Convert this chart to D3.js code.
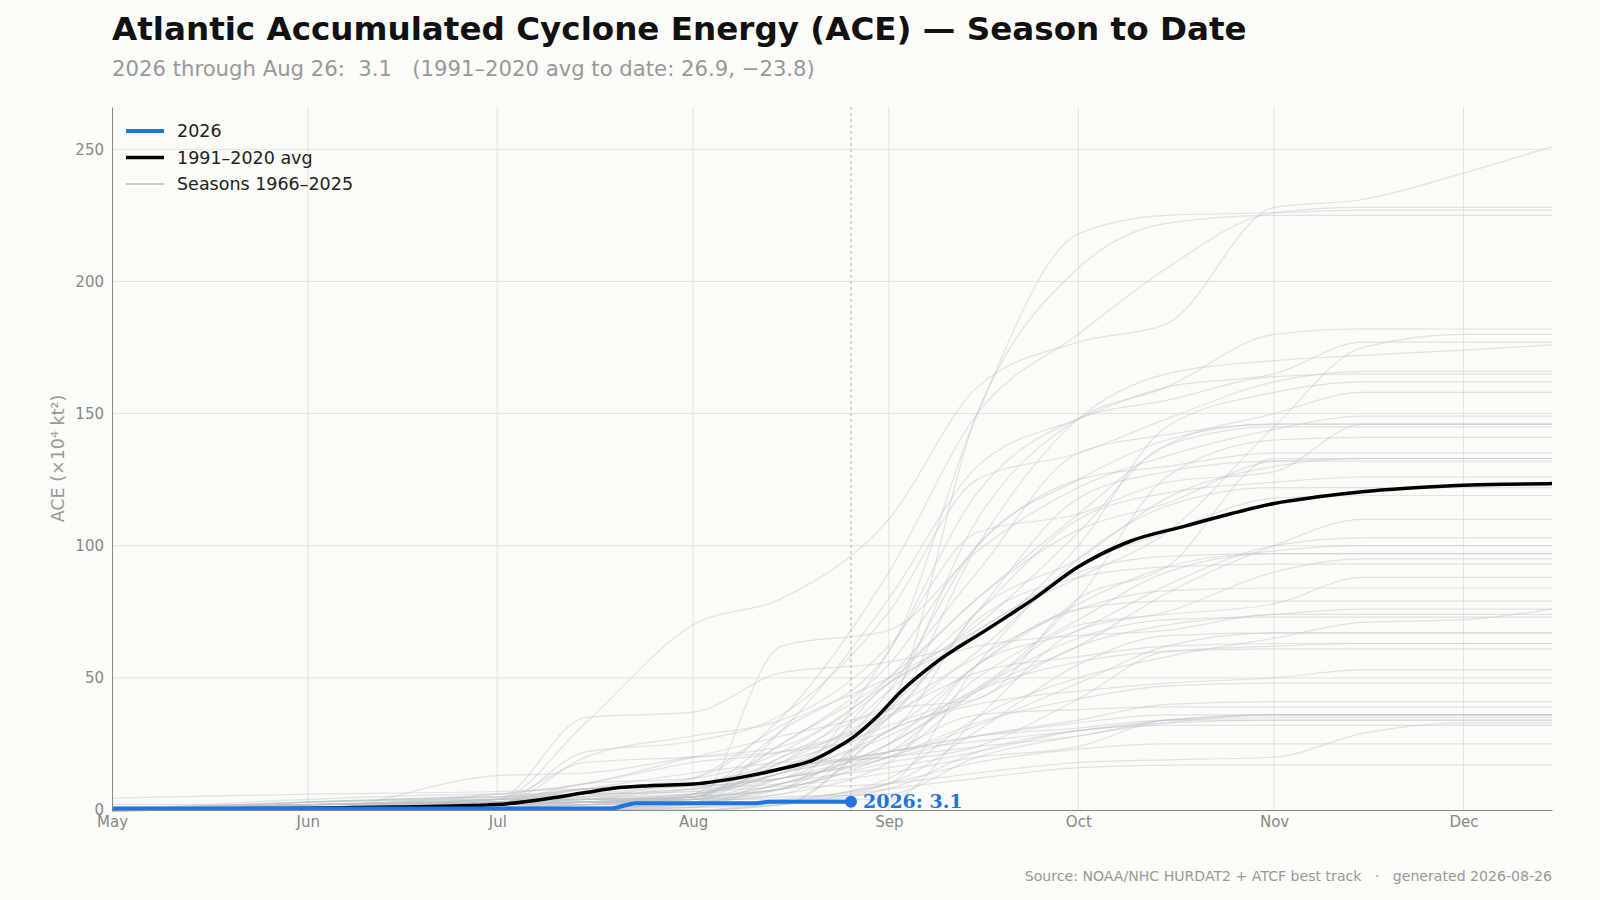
<!DOCTYPE html>
<html>
<head>
<meta charset="utf-8">
<script src="https://cdn.jsdelivr.net/npm/d3@7"></script>
<style>
  html, body { margin: 0; padding: 0; background: #fbfbf7; }
  svg { display: block; font-family: "DejaVu Sans", sans-serif; }
</style>
</head>
<body>
<svg id="chart"></svg>
<script>
// ---- data -------------------------------------------------------------
// sample dates for the historical seasons (month-day)
const seasonDates = ['05-01', '06-01', '07-01', '07-15', '08-01', '08-15', '09-01',
  '09-15', '10-01', '10-15', '11-01', '11-15', '12-01', '12-15'];

const seasonYears = [1966, 1967, 1968, 1969, 1970, 1971, 1972, 1973, 1974, 1975,
  1976, 1977, 1978, 1979, 1980, 1981, 1982, 1983, 1984, 1985,
  1986, 1987, 1988, 1989, 1990, 1991, 1992, 1993, 1994, 1995,
  1996, 1997, 1998, 1999, 2000, 2001, 2002, 2003, 2004, 2005,
  2006, 2007, 2008, 2009, 2010, 2011, 2012, 2013, 2014, 2015,
  2016, 2017, 2018, 2019, 2020, 2021, 2022, 2023, 2024, 2025];

// cumulative ACE per season at seasonDates (one row per year above)
const seasonAce = [
  [0, 0, 13, 14, 20, 24, 48, 70, 105, 138, 145, 145, 145, 145],
  [0, 0, 1, 1, 2, 3, 10, 55, 95, 115, 122, 122, 122, 122],
  [0, 4, 6, 6, 7, 9, 14, 20, 24, 34, 35, 35, 35, 35],
  [0, 2, 3, 3, 5, 25, 50, 80, 112, 138, 150, 158, 158, 158],
  [0, 2, 3, 4, 10, 16, 22, 28, 31, 34, 34, 34, 34, 34],
  [0, 1, 2, 3, 6, 12, 22, 50, 72, 90, 97, 97, 97, 97],
  [0, 3, 5, 6, 7, 14, 22, 28, 33, 36, 36, 36, 36, 36],
  [0, 0, 1, 3, 5, 8, 20, 33, 42, 47, 48, 48, 48, 48],
  [0, 0, 2, 3, 4, 10, 25, 45, 56, 60, 61, 61, 61, 61],
  [0, 1, 3, 4, 6, 14, 28, 46, 65, 72, 73, 73, 73, 73],
  [0, 1, 2, 3, 5, 18, 38, 58, 76, 83, 84, 84, 84, 84],
  [0, 0, 0, 0, 1, 3, 10, 18, 23, 25, 25, 25, 25, 25],
  [0, 0, 1, 2, 6, 16, 36, 52, 58, 62, 63, 63, 63, 63],
  [0, 0, 3, 6, 10, 16, 35, 72, 88, 92, 93, 93, 93, 93],
  [0, 0, 0, 0, 2, 62, 68, 98, 122, 134, 144, 149, 149, 149],
  [0, 2, 3, 4, 6, 14, 30, 55, 78, 92, 98, 100, 100, 100],
  [0, 2, 3, 3, 3, 3, 8, 22, 30, 32, 32, 32, 32, 32],
  [0, 0, 0, 0, 0, 2, 8, 12, 16, 17, 17, 17, 17, 17],
  [0, 0, 0, 0, 0, 3, 12, 35, 50, 58, 65, 71, 72, 76],
  [0, 0, 0, 1, 4, 10, 25, 45, 70, 74, 78, 88, 88, 88],
  [0, 3, 4, 4, 5, 14, 22, 26, 30, 34, 36, 36, 36, 36],
  [0, 0, 0, 0, 1, 10, 16, 22, 30, 33, 34, 34, 34, 34],
  [0, 1, 2, 2, 3, 6, 18, 55, 68, 85, 100, 103, 103, 103],
  [0, 1, 4, 6, 8, 25, 55, 100, 125, 130, 135, 135, 135, 135],
  [0, 2, 3, 5, 12, 32, 50, 68, 90, 96, 97, 97, 97, 97],
  [0, 0, 0, 3, 5, 16, 20, 24, 28, 34, 36, 36, 36, 36],
  [1, 1, 1, 1, 1, 2, 30, 42, 62, 70, 74, 76, 76, 76],
  [0, 1, 1, 1, 2, 12, 22, 36, 38, 39, 39, 39, 39, 39],
  [0, 0, 1, 3, 3, 8, 10, 14, 18, 19, 20, 29, 33, 33],
  [0, 3, 5, 8, 12, 35, 90, 150, 180, 205, 226, 228, 228, 228],
  [0, 0, 2, 22, 26, 36, 75, 125, 135, 148, 162, 166, 166, 166],
  [0, 1, 3, 8, 14, 18, 20, 28, 34, 40, 41, 41, 41, 41],
  [0, 0, 0, 0, 3, 8, 40, 110, 148, 160, 180, 182, 182, 182],
  [0, 0, 2, 3, 4, 30, 80, 130, 148, 160, 165, 177, 177, 177],
  [0, 0, 1, 2, 5, 20, 35, 60, 92, 105, 118, 119, 119, 119],
  [0, 1, 2, 3, 4, 12, 20, 45, 62, 82, 100, 110, 110, 110],
  [0, 0, 0, 1, 2, 4, 10, 30, 55, 66, 67, 67, 67, 67],
  [2, 2, 6, 10, 18, 22, 38, 100, 148, 165, 170, 172, 174, 176],
  [0, 0, 0, 0, 6, 30, 60, 150, 218, 225, 226, 227, 227, 227],
  [0, 2, 4, 33, 70, 80, 110, 160, 177, 184, 228, 231, 241, 251],
  [0, 2, 3, 4, 5, 8, 25, 55, 76, 79, 79, 79, 79, 79],
  [0, 2, 4, 4, 5, 8, 48, 62, 66, 68, 74, 74, 74, 74],
  [0, 1, 2, 20, 28, 34, 62, 105, 112, 124, 128, 146, 146, 146],
  [0, 0, 0, 0, 0, 2, 30, 40, 45, 48, 50, 53, 53, 53],
  [0, 0, 4, 8, 9, 12, 60, 120, 148, 155, 164, 165, 165, 165],
  [0, 0, 2, 4, 8, 14, 45, 75, 110, 120, 124, 126, 126, 126],
  [0, 3, 5, 5, 6, 18, 48, 80, 106, 116, 132, 133, 133, 133],
  [0, 0, 1, 2, 3, 5, 6, 20, 28, 33, 36, 36, 36, 36],
  [0, 0, 2, 8, 9, 12, 20, 32, 48, 62, 67, 67, 67, 67],
  [0, 2, 3, 3, 4, 8, 18, 24, 42, 60, 62, 63, 63, 63],
  [4.5, 6, 7, 8, 10, 18, 32, 46, 80, 126, 140, 141, 141, 141],
  [1, 2, 4, 5, 8, 10, 38, 150, 205, 222, 225, 225, 225, 225],
  [0, 2, 4, 18, 20, 22, 30, 75, 95, 118, 130, 133, 133, 133],
  [0, 0, 0, 2, 4, 6, 35, 75, 118, 128, 132, 132, 132, 132],
  [0, 3, 6, 10, 20, 28, 40, 68, 88, 105, 145, 175, 180, 180],
  [0, 1, 3, 10, 12, 22, 50, 90, 135, 142, 146, 146, 146, 146],
  [0, 1, 3, 4, 4, 4, 4, 35, 68, 75, 90, 95, 95, 95],
  [0, 2, 4, 8, 10, 12, 45, 100, 125, 140, 146, 146, 146, 146],
  [0, 0, 4, 35, 37, 52, 56, 66, 100, 145, 158, 162, 162, 162],
  [0, 0, 1, 2, 3, 20, 38, 42, 80, 92, 133, 133, 133, 133]
];

// 1991-2020 climatology
const avgDates = ['05-01', '05-15', '06-01', '06-15', '07-01', '07-08', '07-15', '07-20',
  '07-25', '08-01', '08-10', '08-15', '08-20', '08-24', '08-26', '08-30', '09-03',
  '09-08', '09-17', '09-24', '10-01', '10-09', '10-18', '10-25', '11-01', '11-08',
  '11-15', '11-22', '12-01', '12-08', '12-15'];
const avgAce = [0.2, 0.4, 0.7, 1.1, 2.1, 4.0, 6.6, 8.4, 9.2, 9.8, 13.0, 15.6, 18.9,
  23.9, 26.9, 35.0, 45.0, 55.0, 69.0, 80.0, 92.0, 101.5, 107.5, 112.0, 116.0,
  118.5, 120.4, 121.7, 122.9, 123.3, 123.5];

// current season
const curDates = ['05-01', '07-19', '07-23', '08-11', '08-13', '08-26'];
const curAce = [0.6, 0.6, 2.6, 2.6, 3.1, 3.1];

const yTicks = [0, 50, 100, 150, 200, 250];
const monthTicks = ['05-01', '06-01', '07-01', '08-01', '09-01', '10-01', '11-01', '12-01'];
const legendItems = ['2026', '1991–2020 avg', 'Seasons 1966–2025'];

// ---- layout -----------------------------------------------------------
const W = 1600, H = 900;
const mg = { top: 107, right: 48, bottom: 90, left: 112 };
const blue = '#1f74e0';

const parse = (md) => d3.timeParse('%Y-%m-%d')('2026-' + md);

const svg = d3.select('#chart').attr('width', W).attr('height', H);
svg.append('rect').attr('width', W).attr('height', H).attr('fill', '#fbfbf7');

const x = d3.scaleTime()
  .domain([parse('05-01'), parse('12-15')])
  .range([mg.left, W - mg.right]);
const y = d3.scaleLinear().domain([0, 266]).range([H - mg.bottom, mg.top]);

// grid
const grid = svg.append('g');
grid.selectAll('line.h').data(yTicks.filter((d) => d > 0)).join('line')
  .attr('x1', mg.left).attr('x2', W - mg.right)
  .attr('y1', (d) => y(d)).attr('y2', (d) => y(d))
  .attr('stroke', '#e2e2e2').attr('stroke-width', 1);
grid.selectAll('line.v').data(monthTicks.slice(1)).join('line')
  .attr('x1', (d) => x(parse(d))).attr('x2', (d) => x(parse(d)))
  .attr('y1', mg.top).attr('y2', H - mg.bottom)
  .attr('stroke', '#e2e2e2').attr('stroke-width', 1);

// today marker
svg.append('line')
  .attr('x1', x(parse('08-26'))).attr('x2', x(parse('08-26')))
  .attr('y1', mg.top).attr('y2', H - mg.bottom)
  .attr('stroke', '#aaa').attr('stroke-width', 1).attr('stroke-dasharray', '3,3');

// seasons
const seasonLine = d3.line()
  .x((d, i) => x(parse(seasonDates[i])))
  .y((d) => y(d))
  .curve(d3.curveMonotoneX);

svg.append('g').selectAll('path').data(seasonAce).join('path')
  .attr('d', seasonLine)
  .attr('fill', 'none')
  .attr('stroke', '#bcc0c8')
  .attr('stroke-opacity', 0.42)
  .attr('stroke-width', 1.2);

// average
const avgLine = d3.line()
  .x((d, i) => x(parse(avgDates[i])))
  .y((d) => y(d))
  .curve(d3.curveMonotoneX);
svg.append('path').datum(avgAce).attr('d', avgLine)
  .attr('fill', 'none').attr('stroke', '#000').attr('stroke-width', 3.5)
  .attr('stroke-linejoin', 'round');

// 2026
const curLine = d3.line()
  .x((d, i) => x(parse(curDates[i])))
  .y((d) => y(d))
  .curve(d3.curveMonotoneX);
svg.append('path').datum(curAce).attr('d', curLine)
  .attr('fill', 'none').attr('stroke', blue).attr('stroke-width', 4)
  .attr('stroke-linejoin', 'round');

const lastX = x(parse(curDates[curDates.length - 1]));
const lastY = y(curAce[curAce.length - 1]);
svg.append('circle').attr('cx', lastX).attr('cy', lastY).attr('r', 6).attr('fill', blue);
svg.append('text').attr('x', lastX + 12).attr('y', lastY)
  .attr('dy', '0.35em')
  .attr('font-family', '"DejaVu Serif", serif').attr('font-weight', 'bold')
  .attr('font-size', 19).attr('fill', blue)
  .text(`2026: ${curAce[curAce.length - 1]}`);

// axes
const yAxis = svg.append('g').attr('transform', `translate(${mg.left},0)`)
  .call(d3.axisLeft(y).tickValues(yTicks).tickSize(0).tickPadding(8));
yAxis.select('.domain').attr('stroke', '#888');
yAxis.selectAll('text').attr('font-size', 15).attr('fill', '#888')
  .attr('font-family', '"DejaVu Sans", sans-serif');

const xAxis = svg.append('g').attr('transform', `translate(0,${H - mg.bottom})`)
  .call(d3.axisBottom(x).tickValues(monthTicks.map(parse))
    .tickFormat(d3.timeFormat('%b')).tickSize(0).tickPadding(6));
xAxis.select('.domain').attr('stroke', '#888');
xAxis.selectAll('text').attr('font-size', 15).attr('fill', '#888')
  .attr('font-family', '"DejaVu Sans", sans-serif');

svg.append('text')
  .attr('transform', `translate(58,${(mg.top + H - mg.bottom) / 2}) rotate(-90)`)
  .attr('text-anchor', 'middle').attr('dy', '0.35em')
  .attr('font-size', 17.5).attr('fill', '#999')
  .text('ACE (×10⁴ kt²)');

// legend
const lg = svg.append('g');
const legendStyle = [
  { stroke: blue, w: 4 },
  { stroke: '#000', w: 3.5 },
  { stroke: '#c8c8c8', w: 2 }
];
legendItems.forEach((t, i) => {
  const ly = 131 + i * 26.5;
  lg.append('line').attr('x1', 126).attr('x2', 164).attr('y1', ly).attr('y2', ly)
    .attr('stroke', legendStyle[i].stroke).attr('stroke-width', legendStyle[i].w);
  lg.append('text').attr('x', 177).attr('y', ly).attr('dy', '0.35em')
    .attr('font-size', 17.5).attr('fill', '#222').text(t);
});

// titles
svg.append('text').attr('x', 112).attr('y', 40)
  .attr('font-size', 32.6).attr('font-weight', 'bold').attr('fill', '#111')
  .text('Atlantic Accumulated Cyclone Energy (ACE) — Season to Date');
svg.append('text').attr('x', 112).attr('y', 76)
  .attr('font-size', 21.2).attr('fill', '#999').style('white-space', 'pre')
  .text('2026 through Aug 26:  3.1   (1991–2020 avg to date: 26.9, −23.8)');

svg.append('text').attr('x', W - mg.right).attr('y', 881)
  .attr('text-anchor', 'end').attr('font-size', 14.1).attr('fill', '#999')
  .style('white-space', 'pre')
  .text('Source: NOAA/NHC HURDAT2 + ATCF best track   ·   generated 2026-08-26');
</script>
</body>
</html>
